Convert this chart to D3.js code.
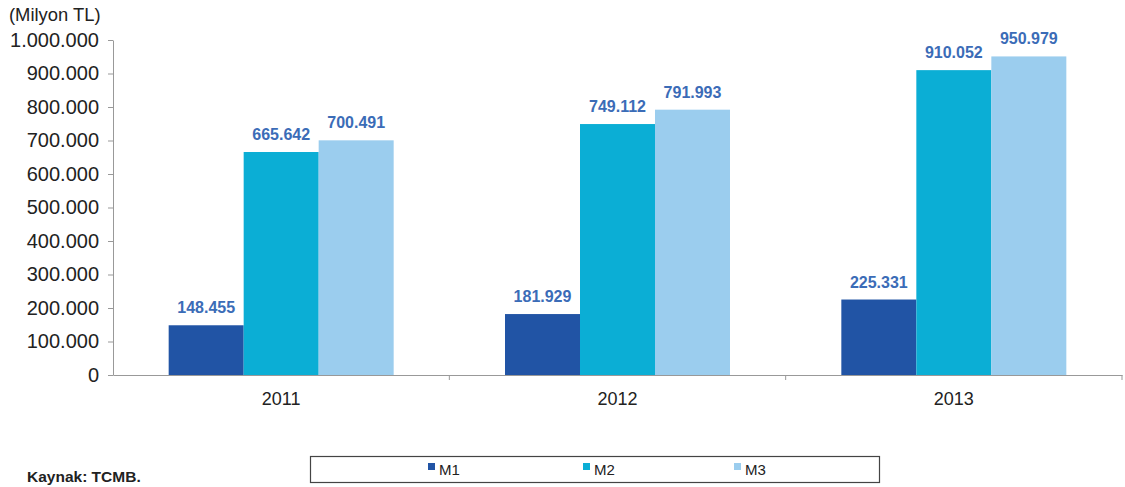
<!DOCTYPE html>
<html>
<head>
<meta charset="utf-8">
<script src="https://cdn.jsdelivr.net/npm/d3@7"></script>
<style>
body { margin: 0; background: #fff; }
text { font-family: "Liberation Sans", Arial, sans-serif; }
</style>
</head>
<body>
<script>
var years = ["2011", "2012", "2013"];
var seriesNames = ["M1", "M2", "M3"];
var m1 = [148455, 181929, 225331];
var m2 = [665642, 749112, 910052];
var m3 = [700491, 791993, 950979];
var yTicks = [0, 100000, 200000, 300000, 400000, 500000, 600000, 700000, 800000, 900000, 1000000];
var colors = ["#2154a5", "#0baed5", "#9bcdee"];

var width = 1125, height = 487;
var plotLeft = 113, plotRight = 1122, plotTop = 40, plotBottom = 375;

var svg = d3.select("body").append("svg").attr("width", width).attr("height", height);

var x = d3.scaleBand().domain(years).range([plotLeft, plotRight]).paddingInner(0).paddingOuter(0);
var xs = d3.scaleBand().domain(seriesNames).range([0, 225]);
var y = d3.scaleLinear().domain([0, 1000000]).range([plotBottom, plotTop]);

var fmt = function(v) {
	return d3.format(",")(v).replace(/,/g, ".");
};

var rows = years.map(function(yr, i) {
	return { year: yr, values: [m1[i], m2[i], m3[i]] };
});

//Bars
var groups = svg.selectAll("g.grp").data(rows).enter().append("g")
	.attr("transform", function(d) { return "translate(" + (x(d.year) + (x.bandwidth() - 225) / 2) + ",0)"; });

groups.selectAll("rect").data(function(d) {
	return d.values.map(function(v, k) { return { name: seriesNames[k], v: v, k: k }; });
}).enter().append("rect")
	.attr("x", function(d) { return xs(d.name); })
	.attr("width", xs.bandwidth())
	.attr("y", function(d) { return y(d.v); })
	.attr("height", function(d) { return plotBottom - y(d.v); })
	.attr("fill", function(d) { return colors[d.k]; });

groups.selectAll("text").data(function(d) {
	return d.values.map(function(v, k) { return { name: seriesNames[k], v: v }; });
}).enter().append("text")
	.attr("x", function(d) { return xs(d.name) + xs.bandwidth() / 2; })
	.attr("y", function(d) { return y(d.v) - 12; })
	.attr("text-anchor", "middle")
	.attr("font-size", 16)
	.attr("font-weight", "bold")
	.attr("fill", "#3b6cb7")
	.text(function(d) { return fmt(d.v); });

//Y axis
var yAxis = svg.append("g").attr("transform", "translate(" + plotLeft + ",0)")
	.call(d3.axisLeft(y).tickValues(yTicks).tickSize(5).tickSizeOuter(0).tickPadding(9).tickFormat(fmt));
yAxis.select(".domain").attr("stroke", "#999");
yAxis.selectAll(".tick line").attr("stroke", "#999");
yAxis.selectAll("text").attr("font-size", 20).attr("fill", "#222")
	.attr("font-family", "'Liberation Sans', Arial, sans-serif");

//X axis
var xAxis = svg.append("g").attr("transform", "translate(0," + plotBottom + ")")
	.call(d3.axisBottom(x).tickSize(0).tickPadding(17));
xAxis.select(".domain").attr("stroke", "#999");
xAxis.selectAll("text").attr("font-size", 18).attr("fill", "#222")
	.attr("font-family", "'Liberation Sans', Arial, sans-serif");
//category boundary ticks
svg.selectAll("line.sep").data(years).enter().append("line")
	.attr("x1", function(d) { return x(d) + x.bandwidth(); })
	.attr("x2", function(d) { return x(d) + x.bandwidth(); })
	.attr("y1", plotBottom).attr("y2", plotBottom + 5)
	.attr("stroke", "#999");

svg.append("text").attr("x", 9).attr("y", 21).attr("font-size", 18.4).attr("fill", "#222").text("(Milyon TL)");
svg.append("text").attr("x", 27).attr("y", 482).attr("font-size", 15.5).attr("font-weight", "bold").attr("fill", "#222").text("Kaynak: TCMB.");

//Legend
svg.append("rect").attr("x", 310.5).attr("y", 456.5).attr("width", 569).attr("height", 26)
	.attr("fill", "none").attr("stroke", "#444").attr("stroke-width", 1.2);
var legX = [428, 583, 734];
var leg = svg.selectAll("g.leg").data(seriesNames).enter().append("g")
	.attr("transform", function(d, i) { return "translate(" + legX[i] + ",463)"; });
leg.append("rect").attr("width", 7).attr("height", 7).attr("fill", function(d, i) { return colors[i]; });
leg.append("text").attr("x", 11).attr("y", 11.5).attr("font-size", 15).attr("fill", "#222").text(function(d) { return d; });
</script>
</body>
</html>
